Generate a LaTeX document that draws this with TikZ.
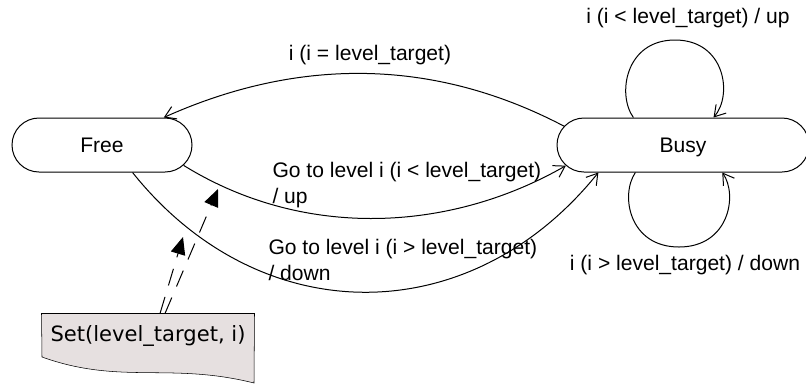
\documentclass[tikz,border=0pt]{standalone}
\usepackage{fontspec}
\setmainfont{Liberation Sans}
\newfontfamily\notefont{DejaVu Sans}
\usetikzlibrary{shapes.misc,arrows.meta,backgrounds,calc}
\definecolor{notefill}{RGB}{230,224,224}
\begin{document}
\begin{tikzpicture}[x=0.75pt,y=-0.75pt,line width=0.75pt,
  state/.style={rounded rectangle,draw,minimum height=40.5pt,inner sep=0pt,
    text depth=0pt,font=\fontsize{15.8}{19}\selectfont},
  trans/.style={-{Straight Barb[length=8pt,width=10pt]}},
  lbl/.style={font=\fontsize{15.8}{19.5}\selectfont,inner sep=0pt},
  link/.style={dash pattern=on 13pt off 9pt,-{Triangle[length=13pt,width=11pt]}},
  notebox/.style={minimum width=159pt,minimum height=32.25pt,inner sep=0pt,
    font=\notefont\fontsize{15.8}{19}\selectfont}]
\useasboundingbox (0,0) rectangle (806,387);

% states
\node[state,minimum width=135pt] (free) at (102,145) {Free};
\node[state,minimum width=189pt] (busy) at (683,145) {Busy};

% transitions between the states
\draw[trans] (busy.171) .. controls (436,59) and (301,56) .. (free.24);
\draw[trans] (free.-14) .. controls (304,240) and (450,232) .. (busy.190);
\draw[trans] (free.-42) .. controls (260,332) and (470,332) .. (busy.198);

% self loops on Busy
\draw[trans] (busy.151) .. controls (617,95) and (625,40) .. (675,40)
  .. controls (725,40) and (733,95) .. (busy.42);
\draw[trans] (busy.210) .. controls (620,195) and (629,247) .. (679,247)
  .. controls (729,247) and (738,195) .. (busy.-35);

% transition labels
\node[lbl] (leq) at (370,55) {i (i = level\_target)};
\node[lbl] (lup) at (688,18) {i (i < level\_target) / up};
\node[lbl] (ldown) at (685,265) {i (i > level\_target) / down};
\node[lbl,anchor=west,align=left] (gup) at (272,185) {Go to level i (i < level\_target)\\/ up};
\node[lbl,anchor=west,align=left] (gdown) at (268,260) {Go to level i (i > level\_target)\\/ down};

% note with wavy bottom
\node[notebox] (set) at (148,335.5) {Set(level\_target, i)};
\begin{scope}[on background layer]
  \filldraw[fill=notefill] (set.north west) -- (set.north east) -- (254,383)
    .. controls (170,362) and (120,385) .. (42,357) -- cycle;
\end{scope}

% note links
\coordinate (tipA) at (183,237);
\coordinate (tipB) at (218,189);
\draw[link] ([xshift=9pt]set.north) -- (tipA);
\draw[link] ([xshift=12.75pt]set.north) -- (tipB);
\end{tikzpicture}
\end{document}
